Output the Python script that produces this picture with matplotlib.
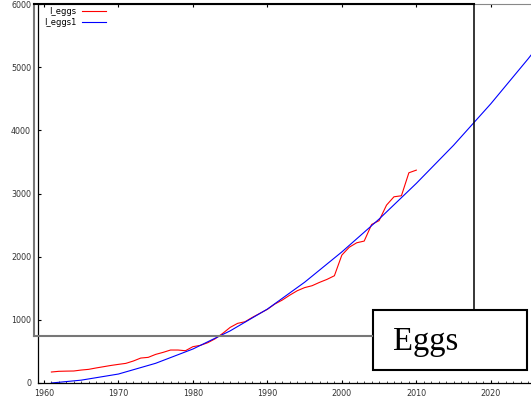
import matplotlib
matplotlib.use('Agg')
import matplotlib.pyplot as plt
from matplotlib.lines import Line2D
from matplotlib.patches import Rectangle
from matplotlib.ticker import MultipleLocator

# Egg production series
years = [1961, 1962, 1963, 1964, 1965, 1966, 1967, 1968, 1969, 1970,
         1971, 1972, 1973, 1974, 1975, 1976, 1977, 1978, 1979, 1980,
         1981, 1982, 1983, 1984, 1985, 1986, 1987, 1988, 1989, 1990,
         1991, 1992, 1993, 1994, 1995, 1996, 1997, 1998, 1999, 2000,
         2001, 2002, 2003, 2004, 2005, 2006, 2007, 2008, 2009, 2010]
eggs = [174, 185, 188, 190, 205, 216, 238, 258, 278, 295,
        311, 348, 395, 406, 453, 485, 522, 522, 511, 575,
        596, 638, 701, 785, 880, 944, 970, 1040, 1103, 1166,
        1250, 1313, 1390, 1460, 1510, 1540, 1593, 1640, 1698, 2025,
        2150, 2220, 2247, 2510, 2570, 2816, 2948, 2964, 3328, 3370]

# fitted curve
fit_years = [1961, 1965, 1970, 1975, 1980, 1985, 1990, 1995,
             2000, 2005, 2010, 2015, 2020, 2025, 2026]
fit_vals = [0, 45, 142, 312, 538, 825, 1170, 1595,
            2075, 2595, 3160, 3763, 4420, 5130, 5280]

W, H = 531, 413

def fx(px):
    return px / W

def fy(py):
    return 1 - py / H

fig = plt.figure(figsize=(5.31, 4.13), dpi=100)
ax = fig.add_axes([fx(38), fy(383), (531 - 38) / W, (383 - 4) / H])

ax.plot(years, eggs, color='#ff0000', lw=0.8, label='I_eggs')
ax.plot(fit_years, fit_vals, color='#0000ff', lw=0.8, label='I_eggs1')

ax.set_xlim(1959.2, 2025.4)
ax.set_ylim(0, 6000)
ax.xaxis.set_major_locator(MultipleLocator(10))
ax.xaxis.set_minor_locator(MultipleLocator(1))
ax.yaxis.set_major_locator(MultipleLocator(1000))

ax.spines['right'].set_visible(False)
ax.spines['top'].set_color('#888888')
ax.spines['top'].set_linewidth(0.8)
for s in ['left', 'bottom']:
    ax.spines[s].set_linewidth(0.9)

ax.tick_params(axis='x', which='major', direction='in', length=2.5,
               width=0.8, labelsize=5.8, labelcolor='#333333', pad=4,
               top=True)
ax.tick_params(axis='x', which='minor', direction='in', length=1.2,
               width=0.5, top=False)
ax.tick_params(axis='y', which='major', direction='in', length=2.5,
               width=0.8, labelsize=5.8, labelcolor='#333333', pad=5)

leg = ax.legend(loc='upper left', bbox_to_anchor=(fx(44), fy(7)),
                bbox_transform=fig.transFigure, frameon=False,
                markerfirst=False, fontsize=6, handlelength=2.9,
                handletextpad=0.7, labelspacing=0.2, borderpad=0,
                borderaxespad=0)

# overlay frame lines
gray = '#777777'
fig.add_artist(Line2D([fx(34), fx(34)], [fy(4), fy(335.5)],
                      color=gray, lw=1.5, transform=fig.transFigure))
fig.add_artist(Line2D([fx(34), fx(372)], [fy(335.5), fy(335.5)],
                      color=gray, lw=1.5, transform=fig.transFigure))
fig.add_artist(Line2D([fx(34), fx(474)], [fy(3.5), fy(3.5)],
                      color='black', lw=1.5, transform=fig.transFigure))
fig.add_artist(Line2D([fx(474), fx(474)], [fy(3.5), fy(310)],
                      color='black', lw=1.1, transform=fig.transFigure))

# title box
fig.add_artist(Rectangle((fx(372.5), fy(370)), (526.5 - 372.5) / W,
                         (370 - 310) / H, transform=fig.transFigure,
                         facecolor='white', edgecolor='black', lw=1.5))
fig.text(fx(393), fy(350), 'Eggs', family='Liberation Serif',
         fontsize=23.5, ha='left', va='baseline')

fig.savefig('out.png', dpi=100)
